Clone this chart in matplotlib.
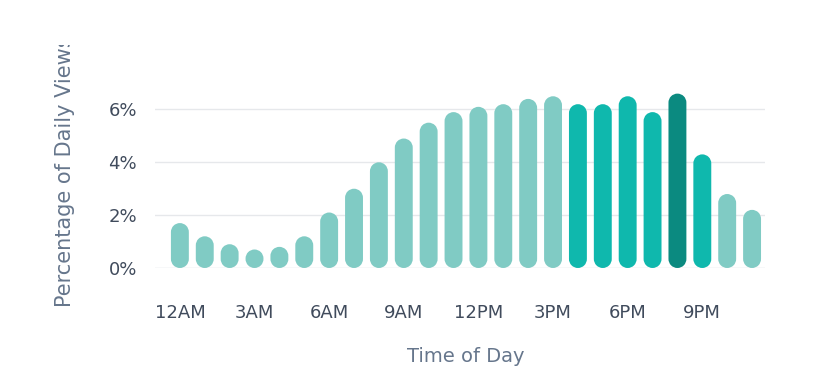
import matplotlib
matplotlib.use("Agg")
import matplotlib.pyplot as plt
import numpy as np
from matplotlib.patches import PathPatch
from matplotlib.path import Path
from matplotlib.transforms import Bbox

hours = list(range(24))
share = [1.7, 1.2, 0.9, 0.7, 0.8, 1.2, 2.1, 3.0, 4.0, 4.9, 5.5, 5.9,
         6.1, 6.2, 6.4, 6.5, 6.2, 6.2, 6.5, 5.9, 6.6, 4.3, 2.8, 2.2]
tick_hours = [0, 3, 6, 9, 12, 15, 18, 21]
tick_labels = ['12AM', '3AM', '6AM', '9AM', '12PM', '3PM', '6PM', '9PM']
peak_hours = [16, 17, 18, 19, 21]
top_hour = 20

light = '#80CBC4'
mid = '#0FB8AD'
dark = '#0B8A80'
colors = []
for h in hours:
    if h == top_hour:
        colors.append(dark)
    elif h in peak_hours:
        colors.append(mid)
    else:
        colors.append(light)

plt.rcParams['font.family'] = ['DejaVu Sans']

fig = plt.figure(figsize=(8.23, 3.91), dpi=100)
ax = fig.add_axes([155/823, 0.3146, 610/823, 0.473])
ax.set_xlim(-1.0, 23.52)
ax.set_ylim(0, 7)


def pill(x0, w, h, aspect):
    # pill shape in data coords: half-ellipse caps on top and bottom
    rx = w / 2
    ry = rx * aspect
    cx = x0 + rx
    top = Path.arc(0, 180)
    bot = Path.arc(180, 360)
    tv = top.vertices * [rx, ry] + [cx, h - ry]
    bv = bot.vertices * [rx, ry] + [cx, ry]
    verts = np.vstack([tv, bv, tv[:1]])
    codes = list(top.codes) + [Path.LINETO] + list(bot.codes[1:]) + [Path.CLOSEPOLY]
    return Path(verts, codes)


bw = 0.72
bars = ax.bar(hours, share, width=bw, color=colors, zorder=3)
aspect = 24.87 / 26.4
for b in bars:
    b.remove()
    p = PathPatch(pill(b.get_x(), b.get_width(), b.get_height(), aspect),
                  fc=b.get_facecolor(), ec='none', zorder=3)
    ax.add_patch(p)

for y in [0, 2, 4, 6]:
    ax.axhline(y, color='#E6E8EB' if y else '#DADDE1', lw=1, zorder=1)

for s in ax.spines.values():
    s.set_visible(False)

ax.set_yticks([0, 2, 4, 6])
ax.set_yticklabels(['0%', '2%', '4%', '6%'])
ax.set_xticks(tick_hours)
ax.set_xticklabels(tick_labels)
ax.tick_params(axis='y', length=0, pad=13, labelsize=13, labelcolor='#404B5C')
ax.tick_params(axis='x', length=0, pad=26, labelsize=13, labelcolor='#404B5C')

fig.text(466/823, 1 - 356/391, 'Time of Day', ha='center', va='center',
         fontsize=14, color='#66768C')
yl = fig.text(65/823, 1 - 307/391, 'Percentage of Daily Views', rotation=90,
              ha='center', va='bottom', fontsize=15, color='#66768C')
yl.set_clip_box(Bbox.from_extents(0, 0, 823, 391 - 45))
yl.set_clip_on(True)

fig.savefig('out.png', dpi=100)
